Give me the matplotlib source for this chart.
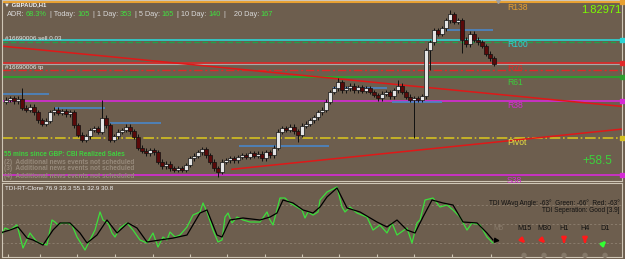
import matplotlib
matplotlib.use("Agg")
import matplotlib.pyplot as plt
from matplotlib.patches import FancyArrowPatch
import numpy as np

W, H = 625, 259
BG = '#6d5e4e'
FRAME = '#cfc6b6'

plt.rcParams['font.family'] = ['Liberation Sans', 'DejaVu Sans']

# ---- GBPAUD H1 candles (closes, open of first bar), wick sizes in pips
first_open = 1.8235
closes = [1.8238, 1.8241, 1.8236, 1.8240, 1.8225, 1.8222, 1.8227, 1.8218, 1.8205, 1.8199,
          1.8204, 1.8218, 1.8222, 1.8217, 1.8220, 1.8215, 1.8218, 1.8197, 1.8181, 1.8173,
          1.8179, 1.8189, 1.8192, 1.8186, 1.8209, 1.8197, 1.8173, 1.8179, 1.8186, 1.8189,
          1.8194, 1.8187, 1.8178, 1.8160, 1.8155, 1.8151, 1.8156, 1.8153, 1.8137, 1.8130,
          1.8134, 1.8127, 1.8124, 1.8127, 1.8124, 1.8132, 1.8143, 1.8147, 1.8153, 1.8158,
          1.8148, 1.8137, 1.8127, 1.8121, 1.8137, 1.8140, 1.8143, 1.8140, 1.8145, 1.8148,
          1.8145, 1.8151, 1.8147, 1.8150, 1.8143, 1.8153, 1.8148, 1.8160, 1.8186, 1.8192,
          1.8189, 1.8194, 1.8187, 1.8181, 1.8196, 1.8199, 1.8205, 1.8210, 1.8218, 1.8222,
          1.8235, 1.8251, 1.8257, 1.8267, 1.8254, 1.8257, 1.8261, 1.8254, 1.8259, 1.8253,
          1.8257, 1.8251, 1.8246, 1.8241, 1.8248, 1.8251, 1.8244, 1.8254, 1.8261, 1.8251,
          1.8243, 1.8238, 1.8241, 1.8238, 1.8244, 1.8319, 1.8332, 1.8352, 1.8346, 1.8355,
          1.8368, 1.8378, 1.8365, 1.8368, 1.8336, 1.8329, 1.8346, 1.8336, 1.8332, 1.8326,
          1.8313, 1.8306, 1.8297]
wick_up = [4] * len(closes)
wick_dn = [4] * len(closes)
for i, w in {4: 18, 24: 29, 83: 7, 98: 10, 111: 7}.items():
    wick_up[i] = w
for i, w in {53: 9, 73: 11, 102: 62, 106: 33, 114: 21}.items():
    wick_dn[i] = w

bid = 1.82971

# daily pivot levels
level_names = ['R138', 'R100', 'R76', 'R61', 'R38', 'Pivot', 'S38']
level_prices = [1.8397, 1.8336, 1.8298, 1.8275, 1.8237, 1.8176, 1.8115]
level_colors = ['#e8a030', '#2ad4d4', '#e02828', '#2e9e2e', '#d62ad6', '#d4c020', '#d62ad6']
label_colors = ['#e8a030', '#2ad4d4', '#e02828', '#3ccc3c', '#d62ad6', '#e8e040', '#d62ad6']
level_styles = ['-', '-', '-', '-', '-', '-.', '-']

# open order lines
sell_price = 1.8333
tp_price = 1.8286

# previous-session blue segments: (start bar, end bar, price)
blue_start = [-0.75, 12.25, 26.0, 58.25, 81.75, 96.5, 110.25]
blue_end = [10.75, 24.75, 38.75, 80.75, 95.25, 109.0, 121.75]
blue_price = [1.8248, 1.8225, 1.8200, 1.8163, 1.8258, 1.8235, 1.8352]

# red trend lines (bar, price) pairs
trend_a = ([-1.5, 154.75], [1.8326, 1.8227])
trend_b = ([56.5, 154.75], [1.8125, 1.8191])

# TDI lines
green_x = [-1.5, -0.25, 1, 2.75, 4.25, 6, 6.75, 7.75, 8.5, 10.25, 11.5, 12.25, 13, 14, 15.25,
           16.5, 17.75, 19, 19.75, 21, 22.25, 23.5, 24.25, 25.5, 26.5, 27.25, 28.5, 30.25,
           31.75, 33.5, 35.25, 36.75, 38, 39.25, 40.25, 41, 42.25, 43.5, 45.25, 46.75, 48.5,
           49.25, 50.25, 51.75, 53, 54, 54.75, 55.5, 56.5, 57.75, 59.25, 61, 63.5, 65.25, 66,
           66.75, 68.5, 69.75, 71, 72.75, 74, 74.75, 75.5, 76.75, 78, 78.5, 80.25, 82.75, 84,
           84.75, 86, 87.75, 90.25, 91.75, 93.5, 95.25, 96.5, 97.75, 100.25, 101.5, 102.75,
           103.5, 104.75, 106.75, 108.5, 110.25, 111.75, 113.5, 115.25, 116.5, 118.5, 120.25,
           121.75]
green_y = [37.7, 46.2, 44.3, 49.1, 27.3, 41.5, 37.7, 33.0, 32.0, 30.1, 53.8, 51.9, 49.1, 51.0,
           51.0, 49.1, 37.7, 30.1, 25.4, 34.9, 44.3, 61.4, 53.8, 51.0, 41.5, 37.7, 46.2, 51.0,
           44.3, 34.9, 32.0, 41.5, 28.2, 37.7, 34.9, 42.4, 37.7, 39.6, 47.2, 58.5, 61.4, 69.9,
           61.4, 44.3, 33.0, 34.9, 56.6, 60.4, 51.0, 56.6, 53.8, 51.9, 51.9, 61.4, 53.8, 49.1,
           74.6, 74.6, 69.9, 66.1, 63.3, 55.7, 61.4, 58.5, 61.4, 72.7, 80.3, 85.0, 66.1, 61.4,
           66.1, 60.4, 56.6, 44.3, 49.1, 41.5, 51.0, 39.6, 46.2, 32.0, 51.0, 53.8, 72.7, 74.6,
           66.1, 68.0, 63.3, 56.6, 44.3, 51.0, 49.1, 37.7, 32.0]
black_x = [-1.5, 1, 3, 5.25, 6.75, 9.25, 11.75, 13.5, 16, 18.5, 20.25, 22.75, 25.25, 27.75,
           30.5, 32.75, 35.25, 38.5, 41.75, 45.25, 48.5, 50.25, 52.75, 54, 56, 59.25, 63.5, 66,
           67.75, 69.25, 71.75, 74.25, 76.75, 78.5, 80.25, 82.75, 85.25, 88.5, 92.75, 95.25,
           97.75, 100.25, 102.25, 104.25, 106.5, 109.25, 111.75, 114.25, 117.75, 120.25, 121.75]
black_y = [41.5, 44.3, 47.2, 36.7, 34.9, 30.1, 44.3, 51.0, 51.0, 41.5, 32.0, 39.6, 53.8, 41.5,
           51.0, 46.2, 33.0, 34.9, 36.7, 39.6, 60.4, 63.3, 39.6, 37.7, 53.8, 55.7, 53.8, 56.6,
           60.4, 72.7, 69.9, 63.3, 60.4, 66.1, 75.6, 84.1, 65.2, 61.4, 51.9, 47.2, 53.8, 44.3,
           41.5, 56.6, 72.7, 69.9, 68.0, 51.9, 51.0, 41.5, 34.9]
tdi_levels = [68, 50, 32]
time_ticks = [0.5, 8.5, 17.75, 27.25, 36.75, 46, 55.25, 64.75, 74, 83.25, 92.75, 102, 111.5, 121.25]

# texts
adr_parts = ['ADR:', '68.3%', '| Today:', '105', '| 1 Day:', '353', '| 5 Day:', '165',
             '| 10 Day:', '140', '|    20 Day:', '167']
news = ['55 mins since GBP: CBI Realized Sales',
        '(2)  Additional news events not scheduled',
        '(3)  Additional news events not scheduled',
        '(4)  Additional news events not scheduled']
tf_names = ['M15', 'M30', 'H1', 'H4', 'D1']
tf_dirs = [(1, -1), (1, -1), (0, -1), (0, -1), (1, 1)]
tf_colors = ['#ff1a1a', '#ff1a1a', '#ff1a1a', '#ff1a1a', '#33ff33']
tf_x = [524, 544, 564, 585, 605]


def fx(x):
    return x / W


def fy(y):
    return 1 - y / H


fig = plt.figure(figsize=(W / 100, H / 100), dpi=100, facecolor=BG)
ax = fig.add_axes([fx(2), fy(181), 620 / W, 181 / H], facecolor=BG)
ax2 = fig.add_axes([fx(2), fy(257), 620 / W, 74 / H], facecolor=BG)

for a in (ax, ax2):
    a.set_xlim(-1, 154)
    a.set_yticks([])
    for s in a.spines.values():
        s.set_color(FRAME)
        s.set_linewidth(0.8)
ax.set_xticks([])
ax.set_ylim(1.81059, 1.84009)
ax2.set_ylim(18.8, 88.8)

# horizontal levels
for name, p, c, lc, ls in zip(level_names, level_prices, level_colors, label_colors, level_styles):
    lw = 1.5 if name in ('R138', 'R61') else 1.2
    ax.axhline(p, color=c, lw=lw, ls=ls, zorder=2)
    ax.text(125.25, p - 0.00008, name, color=lc, fontsize=6.2, va='top', ha='left', zorder=6)
    ax.plot([154], [p], marker='s', ms=2.5, color=c, clip_on=False, zorder=7)

ax.axhline(sell_price, color='#22a04a', lw=1.0, ls=(0, (4, 2)), zorder=2)
ax.axhline(tp_price, color='#e02828', lw=1.0, ls=(0, (6, 2, 1.5, 2)), zorder=2)
ax.axhline(bid, color='#a8a8a8', lw=0.8, zorder=2)
ax.text(-0.2, sell_price + 0.0001, '#16690006 sell 0.03', color='#e8e8e8', fontsize=4.5,
        va='bottom')
ax.text(-0.2, tp_price + 0.0001, '#16690006 tp', color='#e8e8e8', fontsize=4.5, va='bottom')

ax.hlines(blue_price, blue_start, blue_end, color='#4a86c8', lw=1.2, zorder=2)
ax.plot(*trend_a, color='#e01818', lw=1.1, zorder=2)
ax.plot(*trend_b, color='#e01818', lw=1.1, zorder=2)

# candles
c = np.array(closes)
o = np.r_[first_open, c[:-1]]
bx = np.arange(len(c))
hi = np.maximum(o, c) + np.array(wick_up) / 1e4
lo = np.minimum(o, c) - np.array(wick_dn) / 1e4
bull = c >= o
ax.vlines(bx, lo, hi, color='#111111', lw=0.7, zorder=3)
ax.bar(bx, np.abs(c - o) + 0.00005, bottom=np.minimum(o, c) - 0.000025, width=0.8,
       color=np.where(bull, '#e4e4e4', '#5a0a0a'), edgecolor='#111111', lw=0.5, zorder=4)

ax.plot([123], [1.8399], marker='v', ms=3, color='#a0a0a0', zorder=7)

# header
fig.text(fx(4), fy(4.5), '\u25bc GBPAUD,H1', color='#f0f0f0', fontsize=4.3, va='center',
         fontweight='bold')
renderer = fig.canvas.get_renderer()
xpos = 7.0
for t in adr_parts:
    col = '#40e040' if t[0].isdigit() else '#d8d8d8'
    txt = fig.text(fx(xpos), fy(14.5), t, color=col, fontsize=5.3, va='center')
    xpos += txt.get_window_extent(renderer).width + (3.5 if t[0].isdigit() else 1.5)
fig.text(fx(621), fy(10), '1.82971', color='#7cfc00', fontsize=8, ha='right', va='center')
fig.text(fx(612), fy(160.5), '+58.5', color='#3cd23c', fontsize=8.5, ha='right', va='center')

for k, t in enumerate(news):
    col = '#40d040' if k == 0 else '#978a7b'
    fig.text(fx(4), fy(155 + 7 * k), t, color=col, fontsize=4.7, fontweight='bold', va='center')

# TDI panel
for lv in tdi_levels:
    ax2.axhline(lv, color='#968878', lw=0.5, ls=(0, (3, 3)), zorder=1)
ax2.plot(green_x, green_y, color='#3ce03c', lw=0.9, zorder=3)
ax2.plot(black_x, black_y, color='#000000', lw=0.9, zorder=4)
ax2.annotate('', xy=(124.2, 33.9), xytext=(121.5, 34.9),
             arrowprops=dict(arrowstyle='-|>', color='black', lw=1.0, mutation_scale=7))
ax2.set_xticks(time_ticks)
ax2.tick_params(axis='x', direction='in', length=2, color=FRAME, labelbottom=False)

fig.text(fx(5), fy(188), 'TDI-RT-Clone 76.9 33.3 55.1 32.9 30.8', color='#f0f0f0',
         fontsize=4.5, va='center')
fig.text(fx(620), fy(203), 'TDI WAvg Angle: -63\u00b0  Green: -66\u00b0  Red: -63\u00b0',
         color='#111111', fontsize=4.7, ha='right', va='center')
fig.text(fx(620), fy(211), 'TDI Seperation: Good [3.9]', color='#111111', fontsize=4.7,
         ha='right', va='center')
fig.text(fx(498), fy(229), 'M5', color='#8a7c6c', fontsize=5.2, ha='center', va='center')
for name, (dx, dy), col, x in zip(tf_names, tf_dirs, tf_colors, tf_x):
    fig.text(fx(x), fy(229), name, color='#111111', fontsize=5.2, ha='center', va='center')
    sx = 3.2 if dx else 0
    sy = 3.8 if dx == 0 else 3.2
    arr = FancyArrowPatch((fx(x - sx * dx), fy(242 + sy * dy)), (fx(x + sx * dx), fy(242 - sy * dy)),
                          transform=fig.transFigure, arrowstyle='-|>', color=col, lw=1.8,
                          mutation_scale=6)
    fig.add_artist(arr)
    fig.text(fx(x), fy(255), '\u25cf', color='#857868', fontsize=5, ha='center', va='center',
             family=['DejaVu Sans'])

fig.savefig('out.png', dpi=100, facecolor=BG)
